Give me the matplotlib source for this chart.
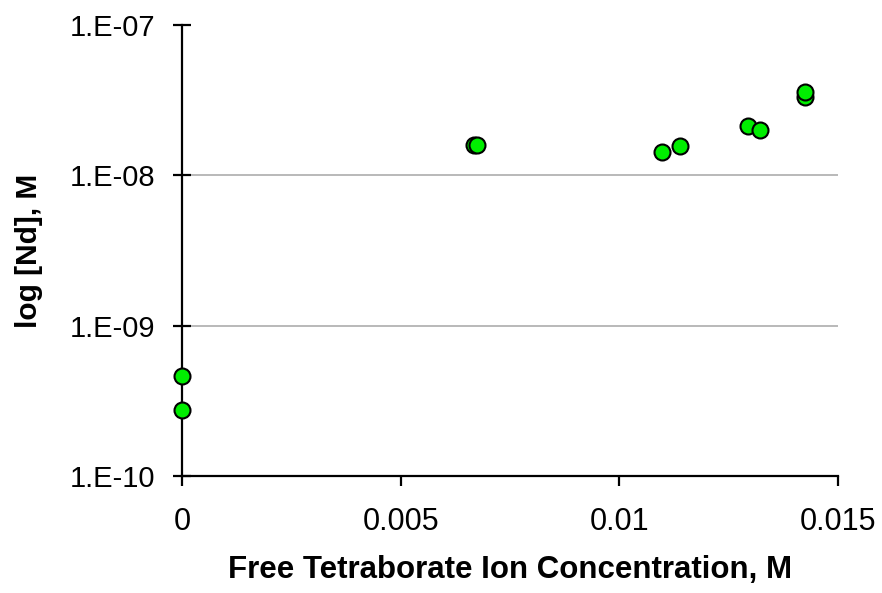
import matplotlib
matplotlib.use("Agg")
import matplotlib.pyplot as plt
from matplotlib.ticker import FixedLocator, NullLocator

plt.rcParams['font.family'] = ['Liberation Sans', 'DejaVu Sans']

tetraborate = [0.0, 0.0, 0.00668, 0.00675, 0.01097, 0.01139, 0.01294, 0.01321, 0.01424, 0.01424]
nd_conc = [4.6e-10, 2.75e-10, 1.58e-8, 1.58e-8, 1.42e-8, 1.56e-8, 2.12e-8, 2.0e-8, 3.31e-8, 3.57e-8]

x_ticks = [0, 0.005, 0.01, 0.015]
x_tick_labels = ["0", "0.005", "0.01", "0.015"]
y_ticks = [1e-10, 1e-9, 1e-8, 1e-7]
y_tick_labels = ["1.E-10", "1.E-09", "1.E-08", "1.E-07"]

fig = plt.figure(figsize=(8.82, 5.93), dpi=100)
ax = fig.add_axes([182/882, 1-476/593, (838-182)/882, (476-25)/593])

ax.set_yscale('log')
ax.set_xlim(0, 0.015)
ax.set_ylim(1e-10, 1e-7)

for yv in y_ticks[1:3]:
    ax.axhline(yv, color='#b3b3b3', lw=1.3, zorder=1)

ax.plot(tetraborate, nd_conc, linestyle='none', marker='o', markersize=11.5,
        markerfacecolor='#00ee00', markeredgecolor='black', markeredgewidth=1.5,
        zorder=5, clip_on=False)

ax.spines['top'].set_visible(False)
ax.spines['right'].set_visible(False)
ax.spines['left'].set_linewidth(1.6)
ax.spines['bottom'].set_linewidth(1.6)

ax.xaxis.set_major_locator(FixedLocator(x_ticks))
ax.set_xticklabels(x_tick_labels)
ax.yaxis.set_major_locator(FixedLocator(y_ticks))
ax.yaxis.set_minor_locator(NullLocator())
ax.set_yticklabels(y_tick_labels)

ax.tick_params(axis='x', direction='out', length=7, width=1.6, labelsize=22, pad=15)
ax.tick_params(axis='y', direction='inout', length=13, width=1.6, labelsize=21, pad=13)

ax.set_xlabel("Free Tetraborate Ion Concentration, M", fontsize=22.5, fontweight='bold', labelpad=13)
ax.set_ylabel("log [Nd], M", fontsize=21.5, fontweight='bold', labelpad=19)

fig.savefig("out.png", dpi=100)
